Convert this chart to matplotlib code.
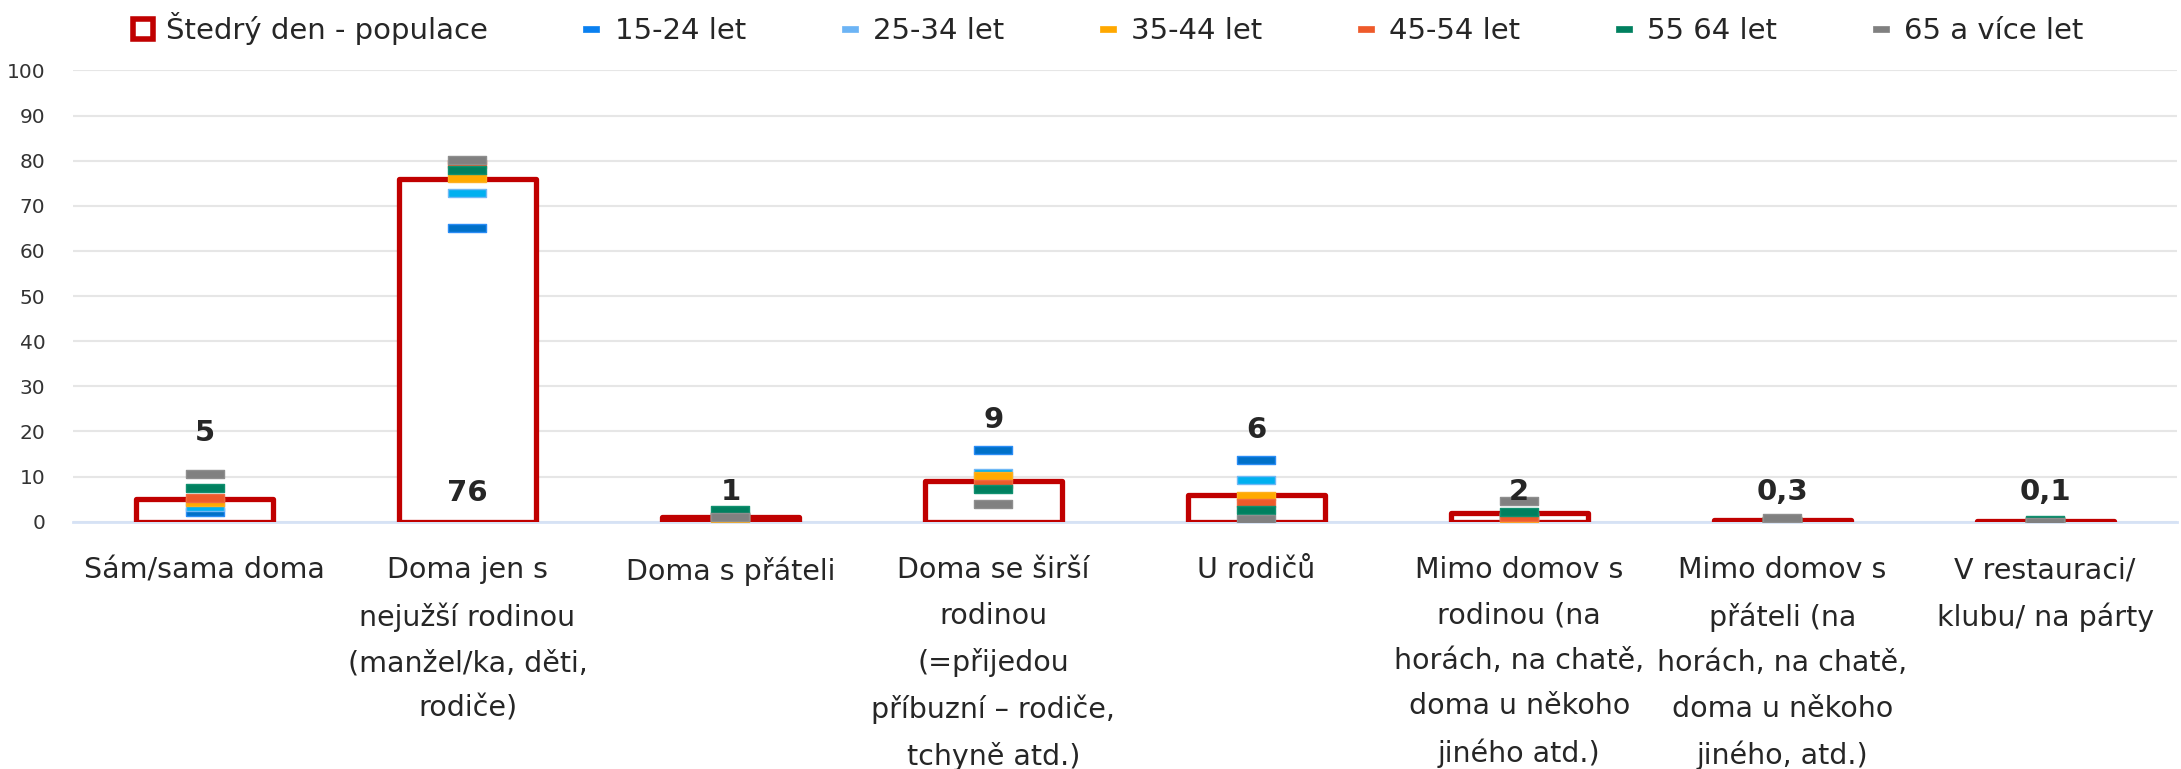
import matplotlib
matplotlib.use("Agg")
import matplotlib.pyplot as plt
from matplotlib.lines import Line2D
import numpy as np

categories = [
    "Sám/sama doma",
    "Doma jen s\nnejužší rodinou\n(manžel/ka, děti,\nrodiče)",
    "Doma s přáteli",
    "Doma se širší\nrodinou\n(=přijedou\npříbuzní – rodiče,\ntchyně atd.)",
    "U rodičů",
    "Mimo domov s\nrodinou (na\nhorách, na chatě,\ndoma u někoho\njiného atd.)",
    "Mimo domov s\npřáteli (na\nhorách, na chatě,\ndoma u někoho\njiného, atd.)",
    "V restauraci/\nklubu/ na párty",
]
population = [5, 76, 1, 9, 6, 2, 0.3, 0.1]
age_15_24 = [2.2, 65.1, 1.0, 15.9, 13.7, 1.0, 0.2, 0.1]
age_25_34 = [3.2, 72.8, 0.8, 10.9, 9.3, 1.2, 0.1, 0.0]
age_35_44 = [4.4, 76.2, 0.9, 10.2, 5.7, 0.8, 0.3, 0.1]
age_45_54 = [5.2, 79.2, 1.2, 8.3, 4.2, 1.1, 0.2, 0.1]
age_55_64 = [7.5, 77.9, 2.5, 7.2, 2.7, 2.2, 0.1, 0.5]
age_65 = [10.6, 80.1, 1.0, 3.9, 0.6, 4.5, 0.8, 0.0]
series_names = ["15-24 let", "25-34 let", "35-44 let", "45-54 let", "55 64 let", "65 a více let"]
pop_name = "Štedrý den - populace"
label_y = [19.7, 6.4, 6.5, 22.5, 20.3, 6.5, 6.5, 6.5]

series = [age_15_24, age_25_34, age_35_44, age_45_54, age_55_64, age_65]
face_colors = ["#0070C8", "#00B0F0", "#FFAA00", "#EE5A2A", "#00805F", "#808080"]
edge_colors = ["#2A8CF5", "#70B8F5", "#FFB020", "#F06A40", "#10906F", "#8E8E8E"]
legend_colors = ["#0A80F0", "#6CB4F5", "#FFA800", "#EE5A2A", "#00805F", "#808080"]

text_color = "#262626"

fig = plt.figure(figsize=(21.81, 7.69), dpi=100)
ax = fig.add_axes([0.0335, 0.3215, 0.9645, 0.587])

x = np.arange(len(categories))
ax.bar(x, population, width=0.52, facecolor="white", edgecolor="#C00000",
       linewidth=3.8, joinstyle="round", zorder=2)

rect = [(-0.5, -0.105), (0.5, -0.105), (0.5, 0.105), (-0.5, 0.105), (-0.5, -0.105)]
for vals, fc, ec in zip(series, face_colors, edge_colors):
    ax.plot(x, vals, linestyle="none", marker=rect, markersize=27.5,
            markerfacecolor=fc, markeredgecolor=ec, markeredgewidth=1.0, zorder=3)

for xi, v, ly in zip(x, population, label_y):
    s = f"{v:g}".replace(".", ",")
    ax.text(xi, ly, s, ha="center", va="center", fontsize=21, fontweight="bold",
            color=text_color, zorder=4)

ax.set_xlim(-0.5, len(categories) - 0.5)
ax.set_ylim(0, 100)
ax.set_yticks(np.arange(0, 101, 10))
ax.yaxis.grid(True, color="#E6E6E6", linewidth=1.5, zorder=0)
ax.set_axisbelow(True)
for sp in ["top", "right", "left"]:
    ax.spines[sp].set_visible(False)
ax.spines["bottom"].set_color("#D6E2F5")
ax.spines["bottom"].set_linewidth(2)
ax.spines["bottom"].set_zorder(1)
ax.set_xticks(x)
ax.set_xticklabels(categories, fontsize=20.5, color=text_color, linespacing=1.78,
                   va="top")
ax.tick_params(axis="x", length=0, pad=25)
ax.tick_params(axis="y", length=0, pad=20, labelsize=14.5, labelcolor="#333333")

handles = [Line2D([], [], linestyle="none", marker="s", markersize=15,
                  markerfacecolor="white", markeredgecolor="#C00000", markeredgewidth=4)]
leg_rect = [(-0.5, -0.17), (0.5, -0.17), (0.5, 0.17), (-0.5, 0.17), (-0.5, -0.17)]
for c in legend_colors:
    handles.append(Line2D([], [], linestyle="none", marker=leg_rect, markersize=11,
                          markerfacecolor=c, markeredgecolor=c, markeredgewidth=0.5))
fig.legend(handles, [pop_name] + series_names, loc="center", ncol=7,
           bbox_to_anchor=(0.508, 0.963), frameon=False, fontsize=21,
           handlelength=0.7, handletextpad=0.45, columnspacing=3.2,
           labelcolor=text_color)

fig.savefig("out.png", dpi=100)
